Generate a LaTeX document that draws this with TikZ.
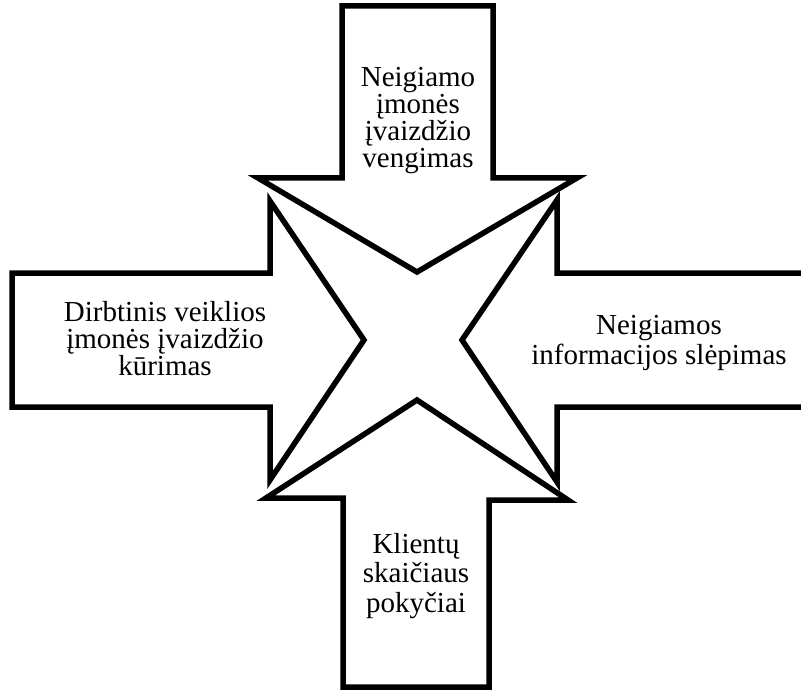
\documentclass[tikz,border=0pt]{standalone}
\usepackage{fontspec}
\setmainfont{Liberation Serif}
\begin{document}
\begin{tikzpicture}[x=1pt,y=-1pt,
  arrowshape/.style={draw=black,fill=white,line width=5.5pt,line join=miter},
  label/.style={align=center,font=\fontsize{29}{27}\selectfont,inner sep=0pt},
  widelabel/.style={label,font=\fontsize{29}{29.5}\selectfont}]
\useasboundingbox (0,0) rectangle (801,690);
% top arrow, pointing down
\draw[arrowshape] (342,6) -- (493,6) -- (493,178) -- (577,178) -- (417,272)
  -- (258,178) -- (342,178) -- cycle;
% left arrow, pointing right
\draw[arrowshape] (12,273) -- (270,273) -- (270,201) -- (364,340) -- (270,480)
  -- (270,407) -- (12,407) -- cycle;
% right arrow, pointing left (runs off the right edge)
\draw[arrowshape] (812,273) -- (557,273) -- (557,200) -- (462,340) -- (557,482)
  -- (557,407) -- (812,407) -- cycle;
% bottom arrow, pointing up
\draw[arrowshape] (343,687) -- (489,687) -- (489,500) -- (568,500) -- (417,400)
  -- (266,498) -- (343,498) -- cycle;
\node[label] (top) at (418,121) {Neigiamo\\įmonės\\įvaizdžio\\vengimas};
\node[label] (left) at (165,339) {Dirbtinis veiklios\\įmonės įvaizdžio\\kūrimas};
\node[widelabel] (right) at (659,343) {Neigiamos\\informacijos slėpimas};
\node[widelabel] (bottom) at (416,576) {Klientų\\skaičiaus\\pokyčiai};
\end{tikzpicture}
\end{document}
